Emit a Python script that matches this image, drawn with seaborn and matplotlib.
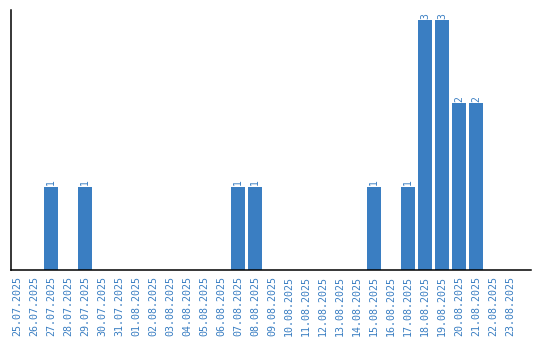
import pandas as pd
import matplotlib
matplotlib.use("Agg")
import matplotlib.pyplot as plt
import seaborn as sns

# daily counts 25.07.2025 - 23.08.2025
dates = [
    "25.07.2025", "26.07.2025", "27.07.2025", "28.07.2025", "29.07.2025",
    "30.07.2025", "31.07.2025", "01.08.2025", "02.08.2025", "03.08.2025",
    "04.08.2025", "05.08.2025", "06.08.2025", "07.08.2025", "08.08.2025",
    "09.08.2025", "10.08.2025", "11.08.2025", "12.08.2025", "13.08.2025",
    "14.08.2025", "15.08.2025", "16.08.2025", "17.08.2025", "18.08.2025",
    "19.08.2025", "20.08.2025", "21.08.2025", "22.08.2025", "23.08.2025",
]
counts = [0, 0, 1, 0, 1, 0, 0, 0, 0, 0, 0, 0, 0, 1, 1,
          0, 0, 0, 0, 0, 0, 1, 0, 1, 3, 3, 2, 2, 0, 0]

df = pd.DataFrame({"date": dates, "count": counts})

blue = "#3a7ec2"
sns.set_style("white")

fig = plt.figure(figsize=(5.4, 3.4), dpi=100)
ax = fig.add_axes([11 / 540, 70 / 340, 520 / 540, 260 / 340])
sns.barplot(data=df, x="date", y="count", color=blue, saturation=1,
            width=0.82, linewidth=0, ax=ax)

labels = [str(v) if v else "" for v in counts]
ax.bar_label(ax.containers[0], labels=labels, rotation=90, padding=1,
             color=blue, fontsize=7, family="DejaVu Sans Mono")

ax.set_xlim(-0.35, 30.24)
ax.set_ylim(0, 3.12)
ax.set_xlabel("")
ax.set_ylabel("")
ax.set_yticks([])
ax.tick_params(axis="x", length=0, pad=4, labelrotation=90, labelcolor=blue)
for t in ax.get_xticklabels():
    t.set_fontfamily("DejaVu Sans Mono")
    t.set_fontsize(7.2)
sns.despine(ax=ax)
for side in ["left", "bottom"]:
    ax.spines[side].set_color("black")
    ax.spines[side].set_linewidth(1.1)

fig.savefig("out.png", dpi=100)
